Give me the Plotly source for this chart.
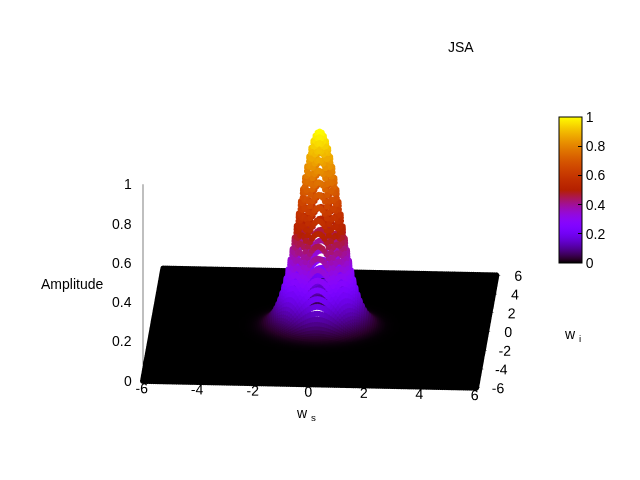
import numpy as np
import plotly.graph_objects as go

# ---- data ----
ws = np.linspace(-6, 6, 161)          # signal frequency grid
wi = np.linspace(-6, 6, 161)          # idler frequency grid
sigma = 0.72                          # width of the joint spectral amplitude
x_ticks = [-6, -4, -2, 0, 2, 4, 6]
x_labels = ['-6', '-4', '-2', '0', '2', '4', '6']
y_ticks = [-6, -4, -2, 0, 2, 4, 6]
y_labels = ['-6', '-4', '-2', '0', '2', '4', '6']
z_ticks = [0, 0.2, 0.4, 0.6, 0.8, 1]
z_labels = ['0', '0.2', '0.4', '0.6', '0.8', '1']
cb_ticks = [0, 0.2, 0.4, 0.6, 0.8, 1]
cb_labels = ['0', '0.2', '0.4', '0.6', '0.8', '1']

WS, WI = np.meshgrid(ws, wi)
AMP = np.exp(-(WS**2 + WI**2) / (2 * sigma**2))

# gnuplot default palette (rgbformulae 7,5,15)
def pal(t):
    r = np.sqrt(t)
    g = t**3
    b = np.clip(np.sin(2 * np.pi * t), 0, 1)
    return 'rgb(%d,%d,%d)' % (round(255 * r), round(255 * g), round(255 * b))

cscale = [[t, pal(t)] for t in np.linspace(0, 1, 41)]

font = dict(family='Liberation Sans, Arial, sans-serif', size=14, color='black')
tfont = dict(family='Liberation Sans, Arial, sans-serif', size=13, color='black')

fig = go.Figure()
fig.add_trace(go.Scatter3d(
    x=WS.ravel(), y=WI.ravel(), z=AMP.ravel(),
    mode='markers',
    marker=dict(size=3.5, color=AMP.ravel(), colorscale=cscale, cmin=0, cmax=1,
                line=dict(width=0), opacity=1,
                colorbar=dict(x=551 / 640, xanchor='left', y=1 - 255 / 480, yanchor='bottom',
                              len=146 / 480, lenmode='fraction', thickness=23,
                              xpad=0, ypad=0,
                              outlinecolor='black', outlinewidth=1,
                              tickvals=cb_ticks, ticktext=cb_labels,
                              ticks='inside', ticklen=4, tickcolor='black',
                              tickfont=font)),
    showlegend=False, hoverinfo='skip'))

axcommon = dict(showgrid=False, showbackground=False, zeroline=False,
                showline=True, linecolor='black', linewidth=1,
                ticks='outside', ticklen=4, tickcolor='black', tickangle=0,
                tickfont=tfont, title=dict(text=''), showspikes=False)

# z tick labels placed beside the left-front vertical axis through scene coordinates
z_annots = [dict(x=x_ticks[0], y=y_ticks[0], z=v, text=t, showarrow=False,
                 xanchor='right', yanchor='middle', xshift=-9, font=font)
            for v, t in zip(z_ticks, z_labels)]

fig.update_layout(
    width=640, height=480,
    margin=dict(l=0, r=0, t=0, b=0),
    paper_bgcolor='white',
    font=font,
    scene=dict(
        domain=dict(x=[0, 1], y=[0, 1]),
        xaxis=dict(range=[-6, 6], tickvals=x_ticks, ticktext=x_labels, **axcommon),
        yaxis=dict(range=[-6, 6], tickvals=y_ticks, ticktext=y_labels, **axcommon),
        zaxis=dict(range=[0, 1], tickvals=z_ticks, ticktext=z_labels,
                   **{**axcommon, 'showticklabels': False}),
        aspectmode='manual', aspectratio=dict(x=1.39, y=1.39, z=0.87),
        camera=dict(projection=dict(type='orthographic'),
                    eye=dict(x=0.106, y=-1.164, z=0.338),
                    up=dict(x=0, y=0, z=1),
                    center=dict(x=0.035, y=0, z=-0.08)),
        annotations=z_annots,
    ),
    annotations=[
        dict(text='JSA', x=453 / 640, y=1 - 39 / 480, xref='paper', yref='paper',
             xanchor='center', yanchor='middle', showarrow=False, font=font),
        dict(text='Amplitude', x=64 / 640, y=1 - 276 / 480, xref='paper', yref='paper',
             xanchor='center', yanchor='middle', showarrow=False, font=font),
        dict(text='w <sub>s</sub>', x=298 / 640, y=1 - 406 / 480, xref='paper', yref='paper',
             xanchor='center', yanchor='middle', showarrow=False, font=font),
        dict(text='w <sub>i</sub>', x=564 / 640, y=1 - 327 / 480, xref='paper', yref='paper',
             xanchor='center', yanchor='middle', showarrow=False, font=font),
    ],
)

fig.write_html('out.html')
